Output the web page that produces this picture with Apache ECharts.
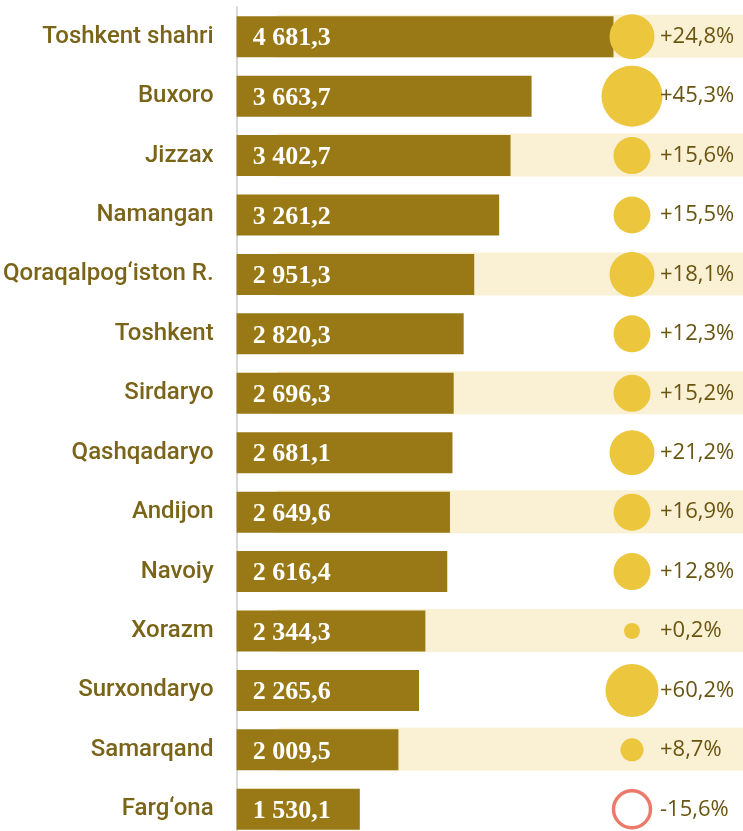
<!DOCTYPE html>
<html><head><meta charset="utf-8">
<script src="https://cdn.jsdelivr.net/npm/echarts@6/dist/echarts.min.js"></script>
<style>html,body{margin:0;padding:0;background:#fff;overflow:hidden}#c{width:743px;height:840px}</style>
</head><body><div id="c"></div>
<script>
const categories = ["Toshkent shahri","Buxoro","Jizzax","Namangan","Qoraqalpog‘iston R.","Toshkent","Sirdaryo","Qashqadaryo","Andijon","Navoiy","Xorazm","Surxondaryo","Samarqand","Farg‘ona"];
const values = [4681.3,3663.7,3402.7,3261.2,2951.3,2820.3,2696.3,2681.1,2649.6,2616.4,2344.3,2265.6,2009.5,1530.1];
const growth = [24.8,45.3,15.6,15.5,18.1,12.3,15.2,21.2,16.9,12.8,0.2,60.2,8.7,-15.6];

function fmtNum(v){const p=v.toFixed(1).split('.');return p[0].replace(/\B(?=(\d{3})+(?!\d))/g,' ')+','+p[1];}
function fmtPct(g){return (g>=0?'+':'-')+Math.abs(g).toFixed(1).replace('.',',')+'%';}
function sizeFor(g){const a=Math.abs(g);if(a<1)return 16;if(a<10)return 23;if(a<17.5)return 37;if(a<30)return 45;if(a<50)return 61;return 53;}

const chart = echarts.init(document.getElementById('c'),null,{renderer:'canvas'});
const stripeData = categories.map((c,i)=>[0,c]).filter((d,i)=>i%2===0);
const scatterData = categories.map((c,i)=>{
  const g=growth[i];
  const item={value:['g',c,g],symbolSize:g<0?37:sizeFor(g)};
  if(g<0) item.itemStyle={color:'rgba(0,0,0,0)',borderColor:'#ec7a6b',borderWidth:3.5,opacity:1};
  return item;
});
chart.setOption({
  animation:false,
  grid:[{left:236,right:0,top:7,height:832},{left:592,width:80,top:7,height:832}],
  xAxis:[
    {type:'value',min:0,max:6290,show:false,gridIndex:0},
    {type:'category',data:['g'],show:false,gridIndex:1}
  ],
  yAxis:[
    {type:'category',data:categories,inverse:true,gridIndex:0,
     axisLine:{show:true,lineStyle:{color:'#d9d9d9',width:2}},axisTick:{show:false},
     axisLabel:{color:'#7a6418',fontFamily:'Roboto',fontWeight:500,fontSize:24,margin:23,padding:[4,0,0,0]}},
    {type:'category',data:categories,inverse:true,gridIndex:1,show:false}
  ],
  series:[
    {type:'custom',xAxisIndex:0,yAxisIndex:0,z:1,data:stripeData,encode:{x:0,y:1},silent:true,
     renderItem:function(params,api){
       const y=api.coord([0,api.value(1)])[1];
       const cs=params.coordSys;
       return {type:'rect',shape:{x:cs.x+40,y:y-22,width:cs.width-40,height:43},style:{fill:'#faf0d4'}};
     }},
    {type:'bar',xAxisIndex:0,yAxisIndex:0,z:2,data:values,barWidth:41,
     itemStyle:{color:'#987915'},
     label:{show:true,position:'insideLeft',distance:16,offset:[0,2],color:'#fff',fontFamily:'Liberation Serif',fontWeight:'bold',fontSize:26,
       formatter:p=>fmtNum(p.value)}},
    {type:'scatter',xAxisIndex:1,yAxisIndex:1,z:3,data:scatterData,symbol:'circle',
     itemStyle:{color:'#ecc73e',opacity:1},
     label:{show:true,position:'inside',align:'left',offset:[28,0],color:'#6a5510',fontFamily:'Open Sans',fontSize:22,
       formatter:p=>fmtPct(p.value[2])}}
  ]
});
</script></body></html>
